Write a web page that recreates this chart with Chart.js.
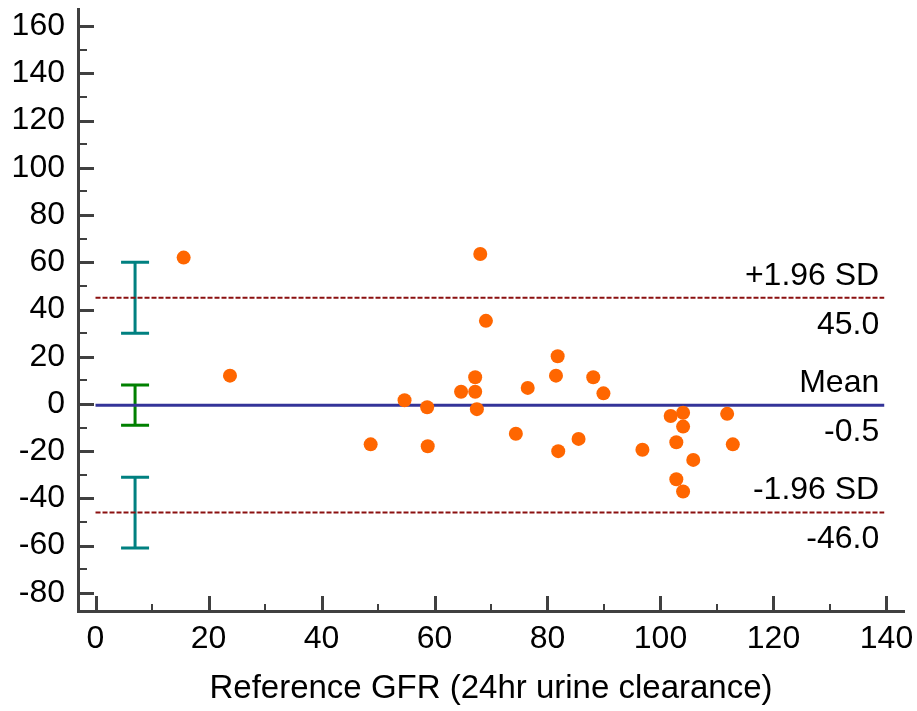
<!DOCTYPE html>
<html>
<head>
<meta charset="utf-8">
<script src="https://cdn.jsdelivr.net/npm/chart.js@4.4.0/dist/chart.umd.min.js"></script>
<style>
html,body{margin:0;padding:0;background:#ffffff;}
#wrap{width:917px;height:711px;position:relative;}
</style>
</head>
<body>
<div id="wrap"><canvas id="c"></canvas></div>
<script>
// ---------- data ----------
const refGFR = [15.6, 23.8, 48.7, 54.7, 58.7, 58.8, 64.7, 67.2, 67.2, 67.5,
                68.1, 69.1, 74.4, 76.5, 81.5, 81.8, 81.9, 85.5, 88.1, 89.9,
                96.8, 101.8, 102.8, 102.8, 104.0, 104.0, 104.0, 105.8, 111.8, 112.8];
const difference = [62.0, 12.0, -17.1, 1.6, -1.4, -17.9, 5.2, 11.3, 5.2, -2.2,
                    63.5, 35.2, -12.6, 6.8, 12.0, 20.2, -20.0, -14.8, 11.3, 4.5,
                    -19.4, -5.1, -16.2, -31.9, -3.7, -9.6, -37.1, -23.7, -4.2, -17.1];
const meanDiff = -0.5;
const upperLoA = 45.0;
const lowerLoA = -46.0;
const lineSpan = [0, 139.6];
const ciX = 7;
const ciUpper = [30, 60];
const ciMean = [-9, 8];
const ciLower = [-61, -31];
const xRange = [-3.1, 143.1];
const yRange = [-87.7, 167.3];
const xMajorTicks = [0, 20, 40, 60, 80, 100, 120, 140];
const xMinorTicks = [10, 30, 50, 70, 90, 110, 130];
const yMajorTicks = [-80, -60, -40, -20, 0, 20, 40, 60, 80, 100, 120, 140, 160];
const yMinorTicks = [-70, -50, -30, -10, 10, 30, 50, 70, 90, 110, 130, 150];
const xTitle = 'Reference GFR (24hr urine clearance)';
const upperName = '+1.96 SD';
const meanName = 'Mean';
const lowerName = '-1.96 SD';

// ---------- styles ----------
const FONT = '"Liberation Sans", Arial, sans-serif';
const AXIS = '#404040';

const points = refGFR.map((x, i) => ({x: x, y: difference[i]}));
const hLine = v => [{x: lineSpan[0], y: v}, {x: lineSpan[1], y: v}];

const overlay = {
  id: 'overlay',
  beforeDatasetsDraw(chart) {
    const ctx = chart.ctx, xs = chart.scales.x, ys = chart.scales.y;
    const bars = [[ciUpper, '#008080'], [ciMean, '#008000'], [ciLower, '#008080']];
    const px = xs.getPixelForValue(ciX);
    ctx.save();
    ctx.lineWidth = 3;
    bars.forEach(([r, col]) => {
      const y1 = ys.getPixelForValue(r[0]), y2 = ys.getPixelForValue(r[1]);
      ctx.strokeStyle = col;
      ctx.beginPath();
      ctx.moveTo(px, y1); ctx.lineTo(px, y2);
      ctx.moveTo(px - 14, y1); ctx.lineTo(px + 14, y1);
      ctx.moveTo(px - 14, y2); ctx.lineTo(px + 14, y2);
      ctx.stroke();
    });
    ctx.restore();
  },
  afterDatasetsDraw(chart) {
    const ctx = chart.ctx, xs = chart.scales.x, ys = chart.scales.y;
    const rx = xs.getPixelForValue(lineSpan[1]) - 5;
    const labels = [[upperLoA, upperName], [meanDiff, meanName], [lowerLoA, lowerName]];
    ctx.save();
    ctx.font = '32px ' + FONT;
    ctx.fillStyle = '#000000';
    ctx.textAlign = 'right';
    ctx.textBaseline = 'middle';
    labels.forEach(([v, name]) => {
      const py = ys.getPixelForValue(v);
      ctx.fillText(name, rx, py - 22);
      ctx.fillText(v.toFixed(1), rx, py + 27);
    });
    ctx.restore();
  },
  afterDraw(chart) {
    const ctx = chart.ctx, xs = chart.scales.x, ys = chart.scales.y;
    const area = chart.chartArea;
    ctx.save();
    ctx.strokeStyle = AXIS;
    const drawX = (vals, len, w) => {
      ctx.lineWidth = w;
      ctx.beginPath();
      vals.forEach(v => {
        const p = Math.round(xs.getPixelForValue(v)) + (w % 2 ? 0.5 : 0);
        ctx.moveTo(p, area.bottom); ctx.lineTo(p, area.bottom - len);
      });
      ctx.stroke();
    };
    const drawY = (vals, len, w) => {
      ctx.lineWidth = w;
      ctx.beginPath();
      vals.forEach(v => {
        const p = Math.round(ys.getPixelForValue(v)) + (w % 2 ? 0.5 : 0);
        ctx.moveTo(area.left, p); ctx.lineTo(area.left + len, p);
      });
      ctx.stroke();
    };
    drawX(xMajorTicks, 15, 3);
    drawX(xMinorTicks, 7, 2);
    drawY(yMajorTicks, 16, 3);
    drawY(yMinorTicks, 9, 2);
    ctx.restore();
  }
};

new Chart(document.getElementById('c'), {
  type: 'scatter',
  data: {
    datasets: [
      {
        label: 'Differences',
        data: points,
        backgroundColor: '#ff6600',
        borderColor: '#ff6600',
        pointRadius: 7,
        pointHoverRadius: 7,
        borderWidth: 0,
        order: 0
      },
      {
        label: 'Mean',
        data: hLine(meanDiff),
        showLine: true,
        borderColor: '#343499',
        borderWidth: 3,
        pointRadius: 0,
        order: 1
      },
      {
        label: 'Upper',
        data: hLine(upperLoA),
        showLine: true,
        borderColor: '#8b1010',
        borderWidth: 2,
        borderDash: [5, 2],
        pointRadius: 0,
        order: 1
      },
      {
        label: 'Lower',
        data: hLine(lowerLoA),
        showLine: true,
        borderColor: '#8b1010',
        borderWidth: 2,
        borderDash: [5, 2],
        pointRadius: 0,
        order: 1
      }
    ]
  },
  options: {
    responsive: true,
    maintainAspectRatio: false,
    devicePixelRatio: 1,
    animation: false,
    events: [],
    layout: {padding: {top: 9, right: 13, left: 0, bottom: 0}},
    plugins: {legend: {display: false}, tooltip: {enabled: false}, title: {display: false}},
    scales: {
      x: {
        type: 'linear',
        min: xRange[0],
        max: xRange[1],
        afterBuildTicks: s => { s.ticks = xMajorTicks.map(v => ({value: v})); },
        afterFit: s => { s.height = 100; s.paddingLeft = 0; s.paddingRight = 0; },
        grid: {display: false, drawTicks: false},
        border: {display: true, color: AXIS, width: 3},
        ticks: {
          autoSkip: false, maxRotation: 0, padding: 9, color: '#000000',
          font: {family: FONT, size: 32},
          callback: v => String(v)
        },
        title: {
          display: true, text: xTitle, color: '#000000',
          font: {family: FONT, size: 33},
          padding: {top: 0, bottom: 2}
        }
      },
      y: {
        type: 'linear',
        min: yRange[0],
        max: yRange[1],
        afterBuildTicks: s => { s.ticks = yMajorTicks.map(v => ({value: v})); },
        afterFit: s => { s.width = 78; s.paddingTop = 0; s.paddingBottom = 0; },
        grid: {display: false, drawTicks: false},
        border: {display: true, color: AXIS, width: 3},
        ticks: {
          autoSkip: false, padding: 13, color: '#000000',
          font: {family: FONT, size: 32},
          callback: v => String(v)
        }
      }
    }
  },
  plugins: [overlay]
});
</script>
</body>
</html>
